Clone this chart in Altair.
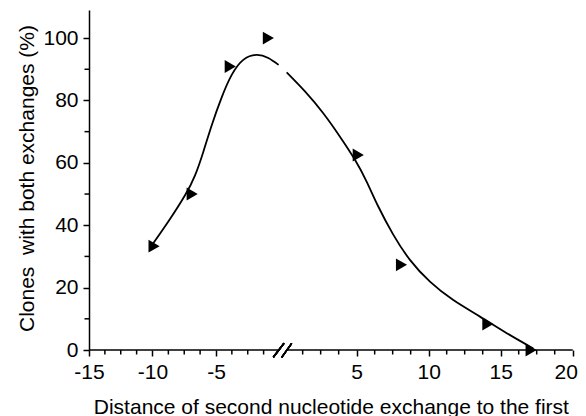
import altair as alt
import pandas as pd

# Measured data points (right-pointing triangles)
pt_x = [-10, -7, -4, -1, 5, 8, 14, 17]
pt_y = [33.3, 50, 90.9, 100, 62.5, 27.3, 8.3, 0]

# Fitted curve, left of the axis break
left_x = [-9.94, -8.62, -7.44, -6.65, -6.0, -5.34, -4.55, -3.76, -2.85, -1.80, -0.88, -0.09]
left_y = [34.2, 42.0, 49.6, 56.0, 63.5, 72.0, 81.0, 88.2, 93.0, 94.6, 93.6, 91.4]
# ... and right of the break
right_x = [0.14, 1.41, 2.68, 3.84, 4.88, 5.69, 6.5, 7.54, 8.7, 10.09, 11.71, 13.56, 15.42, 17.26]
right_y = [89.0, 82.9, 75.9, 68.4, 61.0, 54.0, 46.0, 37.0, 28.9, 21.9, 16.0, 10.7, 5.4, 0.5]

x_major = [-15, -10, -5, 5, 10, 15, 20]
x_minor = [-13.75, -12.5, -11.25, -8.75, -7.5, -6.25, -3.75, -2.5, -1.25,
           1.25, 2.5, 3.75, 6.25, 7.5, 8.75, 11.25, 12.5, 13.75, 16.25, 17.5, 18.75]
y_major = [0, 20, 40, 60, 80, 100]
y_minor = [10, 30, 50, 70, 90]
axis_segments_x = [-15, 0.16]
axis_segments_x2 = [-0.1, 20]

XT = "Distance of second nucleotide exchange to the first"
YT = "Clones \u00a0with both exchanges (%)"
FONT = "Liberation Sans"

curve = pd.DataFrame({
    "x": left_x + right_x,
    "y": left_y + right_y,
    "seg": ["L"] * len(left_x) + ["R"] * len(right_x),
})
points = pd.DataFrame({"x": pt_x, "y": pt_y})
xminor = pd.DataFrame({"x": x_minor})
yminor = pd.DataFrame({"y": y_minor})
xaxis = pd.DataFrame({"x": axis_segments_x, "x2": axis_segments_x2})

xscale = alt.Scale(domain=[-15, -0.1, 0.1, 20], range=[0, 189.2, 197.1, 483.7],
                   nice=False, zero=False)
yscale = alt.Scale(domain=[0, 109], nice=False, zero=True)

xaxis_def = alt.Axis(values=x_major, domain=False, ticks=True, tickSize=6, tickWidth=1.5,
                     tickColor="black", labelPadding=5, grid=False, labelFlush=False,
                     labelOverlap=False,
                     labelOffset={"condition": {"test": "datum.value == 20", "value": -7},
                                  "value": 0},
                     labelExpr="datum.value < 0 ? '-' + abs(datum.value) : '' + datum.value",
                     titleY=63, titleBaseline="alphabetic")
yaxis_def = alt.Axis(values=y_major, domain=True, domainColor="black", domainWidth=1.5,
                     tickSize=6, tickWidth=1.5, tickColor="black", labelPadding=5, grid=False,
                     labelFlush=False, labelOverlap=False,
                     titleX=-56, titleY=168, titleBaseline="alphabetic")

line = alt.Chart(curve).mark_line(color="black", strokeWidth=1.8, interpolate="natural").encode(
    x=alt.X("x:Q", scale=xscale, axis=xaxis_def, title=XT),
    y=alt.Y("y:Q", scale=yscale, axis=yaxis_def, title=YT),
    detail="seg:N",
)

pts = alt.Chart(points).mark_point(shape="triangle-right", filled=True, color="black",
                                   size=165, opacity=1, xOffset=1.6).encode(
    x=alt.X("x:Q", title=XT), y=alt.Y("y:Q", title=YT)
)

xminor_r = alt.Chart(xminor).mark_rule(color="black", strokeWidth=1.5).encode(
    x=alt.X("x:Q", title=XT), y=alt.value(340), y2=alt.value(344.5)
)
yminor_r = alt.Chart(yminor).mark_rule(color="black", strokeWidth=1.5).encode(
    y=alt.Y("y:Q", title=YT), x=alt.value(-4.5), x2=alt.value(0)
)
xaxis_r = alt.Chart(xaxis).mark_rule(color="black", strokeWidth=1.5).encode(
    x=alt.X("x:Q", title=XT), x2="x2:Q", y=alt.value(340)
)
slash1 = alt.Chart(points).mark_rule(color="black", strokeWidth=1.4).encode(
    x=alt.value(184.3), x2=alt.value(195.0), y=alt.value(347.3), y2=alt.value(333.3)
)
slash2 = alt.Chart(points).mark_rule(color="black", strokeWidth=1.4).encode(
    x=alt.value(192.7), x2=alt.value(202.7), y=alt.value(347.3), y2=alt.value(333.3)
)

chart = alt.layer(xaxis_r, xminor_r, yminor_r, slash1, slash2, line, pts).properties(
    width=484, height=340,
    autosize=alt.AutoSizeParams(type="none"),
    padding={"left": 81, "top": 2, "right": 5, "bottom": 66},
).configure_view(stroke=None).configure_axis(
    labelFont=FONT, titleFont=FONT, labelFontSize=21, titleFontSize=21,
    labelColor="black", titleColor="black", titleFontWeight="normal",
)

chart.save("out.html", embed_options={"renderer": "svg", "actions": False})
